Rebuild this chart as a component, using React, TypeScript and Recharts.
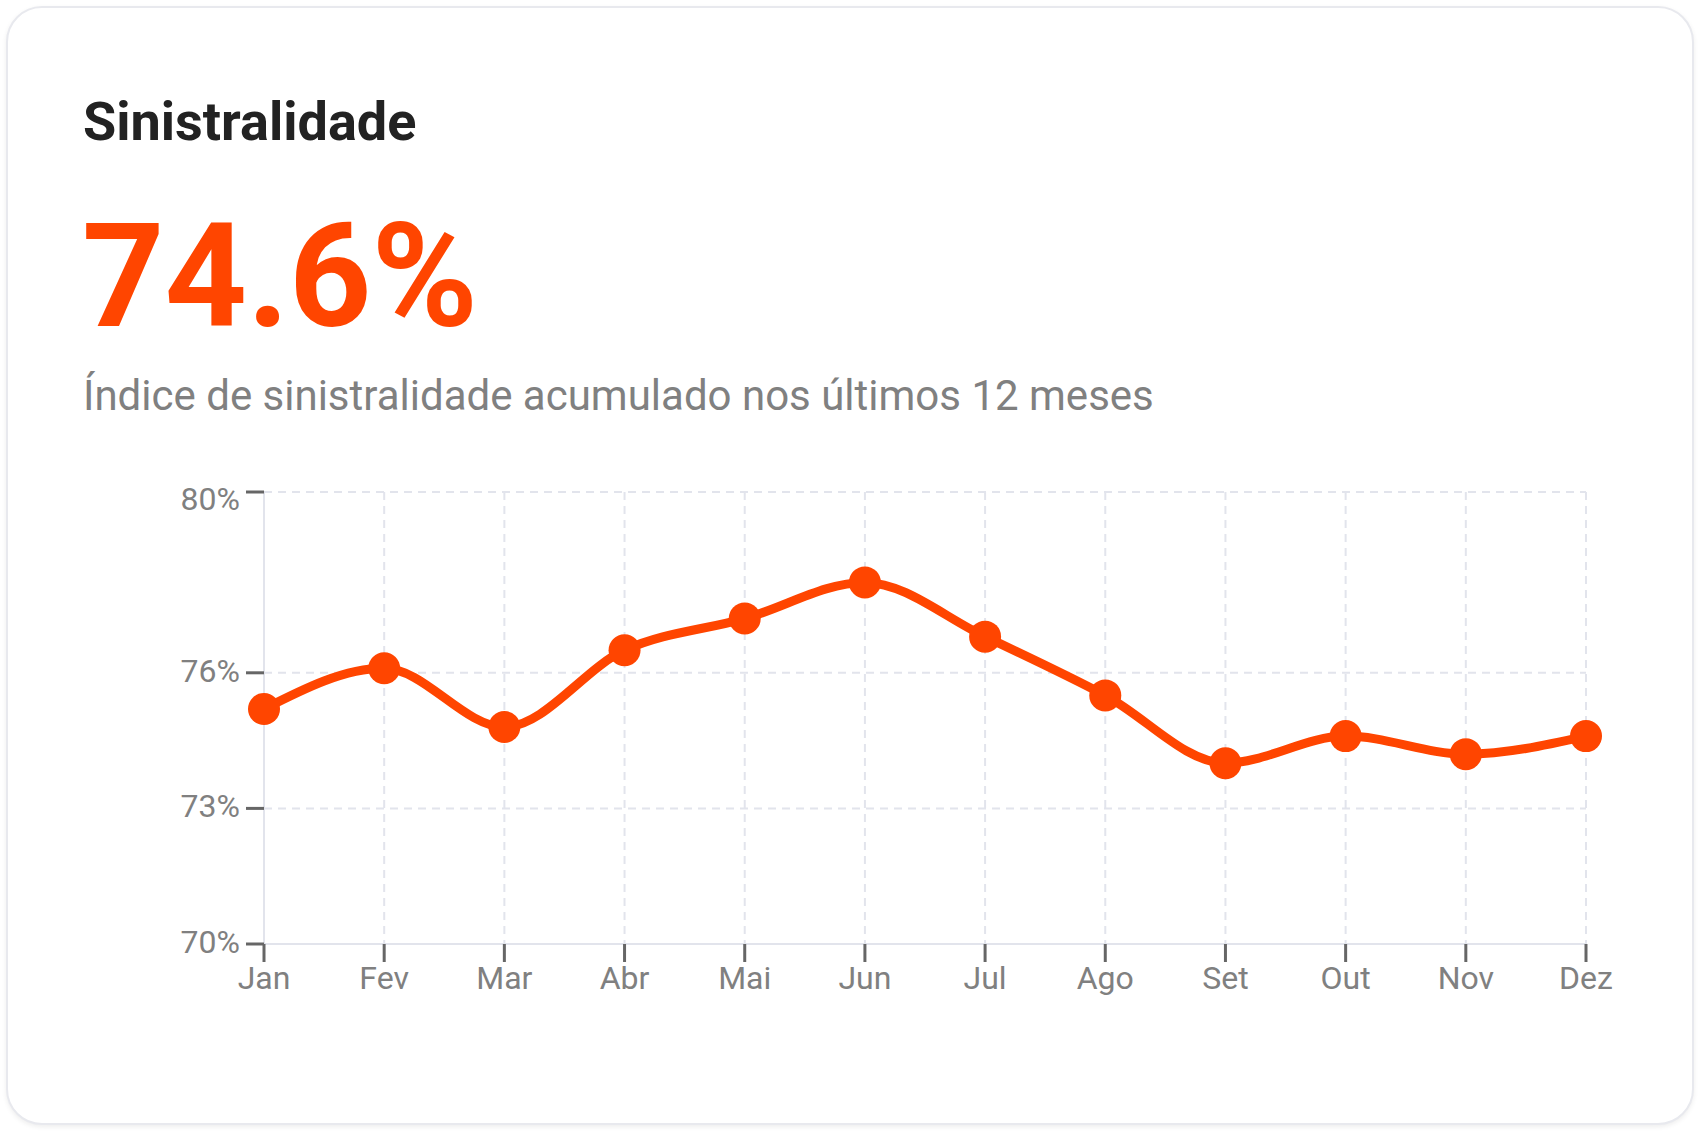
import { LineChart, Line, XAxis, YAxis, CartesianGrid } from "recharts";

const months = ["Jan", "Fev", "Mar", "Abr", "Mai", "Jun", "Jul", "Ago", "Set", "Out", "Nov", "Dez"];
const lossRatio = [75.2, 76.1, 74.8, 76.5, 77.2, 78.0, 76.8, 75.5, 74.0, 74.6, 74.2, 74.6];
const yTicks = [70, 73, 76, 80];

const headline = "74.6%";
const title = "Sinistralidade";
const subtitle = "Índice de sinistralidade acumulado nos últimos 12 meses";

const data = months.map((m, i) => ({ month: m, value: lossRatio[i] }));

const ORANGE = "#ff4500";
const GRID = "#e2e4ec";
const LABEL = "#808080";

const tickStyle = { fill: LABEL, fontSize: 32, fontFamily: "Roboto" };

// top label sits a bit lower than its tick in the original
const YTick = (props: any) => {
  const { x, y, payload } = props;
  const top = payload.value === yTicks[yTicks.length - 1];
  return (
    <text x={x} y={y} dy={top ? 18 : 9} textAnchor="end" {...tickStyle}>
      {`${payload.value}%`}
    </text>
  );
};

const App = () => {
  return (
    <div style={{ fontFamily: "Roboto, sans-serif" }}>
      <div
        style={{
          position: "absolute",
          left: 6,
          top: 6,
          width: 1688,
          height: 1119,
          boxSizing: "border-box",
          border: "2px solid #e8e9ee",
          borderRadius: 36,
          background: "#fff",
          boxShadow: "0 2px 5px rgba(0,0,0,0.07)",
        }}
      />
      <div
        style={{
          position: "absolute",
          left: 83,
          top: 95,
          fontSize: 54,
          lineHeight: 1,
          fontWeight: 700,
          color: "#222",
        }}
      >
        {title}
      </div>
      <div
        style={{
          position: "absolute",
          left: 82,
          top: 205,
          fontSize: 144,
          lineHeight: 1,
          fontWeight: 700,
          color: ORANGE,
        }}
      >
        {headline}
      </div>
      <div
        style={{
          position: "absolute",
          left: 83,
          top: 375,
          fontSize: 42,
          lineHeight: 1,
          color: LABEL,
        }}
      >
        {subtitle}
      </div>
      <div style={{ position: "absolute", left: 83, top: 472 }}>
        <LineChart width={1563} height={542} data={data} margin={{ top: 20, right: 60, bottom: 10, left: 0 }}>
          <CartesianGrid stroke={GRID} strokeWidth={2} strokeDasharray="8 6" />
          <XAxis
            dataKey="month"
            interval={0}
            tick={tickStyle}
            tickSize={18}
            tickMargin={4}
            height={60}
            axisLine={{ stroke: GRID, strokeWidth: 2 }}
            tickLine={{ stroke: "#666", strokeWidth: 3 }}
          />
          <YAxis
            domain={[70, 80]}
            ticks={yTicks}
            tick={<YTick />}
            tickSize={18}
            tickMargin={6}
            width={181}
            axisLine={{ stroke: GRID, strokeWidth: 2 }}
            tickLine={{ stroke: "#666", strokeWidth: 3 }}
          />
          <Line
            type="monotone"
            dataKey="value"
            stroke={ORANGE}
            strokeWidth={9}
            dot={{ r: 16, fill: ORANGE, stroke: ORANGE, strokeWidth: 0 }}
            activeDot={false}
            isAnimationActive={false}
          />
        </LineChart>
      </div>
    </div>
  );
};

export default App;
